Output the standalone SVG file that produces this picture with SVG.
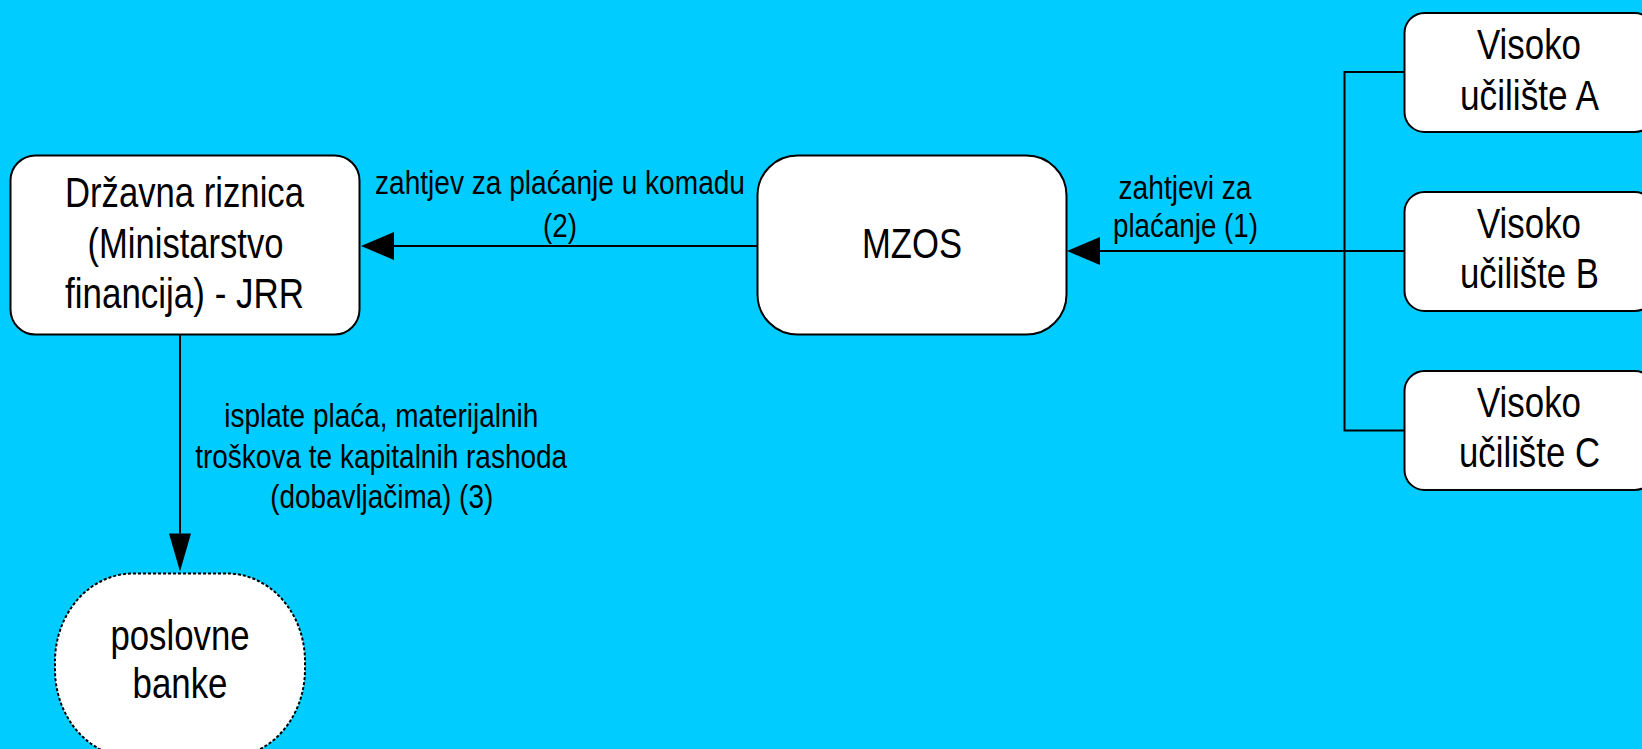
<svg xmlns="http://www.w3.org/2000/svg" width="1642" height="749" viewBox="0 0 1642 749">
  <style>
    .node { fill: #ffffff; stroke: #000000; stroke-width: 2; }
    .dashed { stroke-dasharray: 3 2; }
    .conn { fill: none; stroke: #000000; stroke-width: 2; }
    .nt { font-family: "Liberation Sans Narrow", "Liberation Sans", Arial, sans-serif; font-size: 42.5px; fill: #000000; text-anchor: middle; }
    .lt { font-family: "Liberation Sans Narrow", "Liberation Sans", Arial, sans-serif; font-size: 34px; fill: #000000; text-anchor: middle; }
  </style>
  <defs>
    <marker id="arrowH" markerUnits="userSpaceOnUse" orient="auto" refX="0" refY="14" markerWidth="34" markerHeight="28" overflow="visible">
      <path d="M0,0 L33,14 L0,28 Z" fill="#000000"/>
    </marker>
    <marker id="arrowV" markerUnits="userSpaceOnUse" orient="auto" refX="0" refY="11" markerWidth="39" markerHeight="22" overflow="visible">
      <path d="M0,0 L38,11 L0,22 Z" fill="#000000"/>
    </marker>
  </defs>

  <rect x="0" y="0" width="1642" height="749" fill="#00CCFF"/>

  <g id="connectors">
    <path class="conn" d="M1404,72 H1344.5 V430.5 H1404"/>
    <path class="conn" d="M1404,251 H1100" marker-end="url(#arrowH)"/>
    <path class="conn" d="M757,246 H394" marker-end="url(#arrowH)"/>
    <path class="conn" d="M180,335 V533.5" marker-end="url(#arrowV)"/>
    <g id="label-1">
      <text class="lt" x="1185" y="199" textLength="133" lengthAdjust="spacingAndGlyphs">zahtjevi za</text>
      <text class="lt" x="1185.5" y="236.5" textLength="145" lengthAdjust="spacingAndGlyphs">plaćanje (1)</text>
    </g>
    <g id="label-2">
      <text class="lt" x="560" y="193.5" textLength="370" lengthAdjust="spacingAndGlyphs">zahtjev za plaćanje u komadu</text>
      <text class="lt" x="560" y="237" textLength="34" lengthAdjust="spacingAndGlyphs">(2)</text>
    </g>
    <g id="label-3">
      <text class="lt" x="381.3" y="427" textLength="314" lengthAdjust="spacingAndGlyphs">isplate plaća, materijalnih</text>
      <text class="lt" x="381.2" y="467.5" textLength="372" lengthAdjust="spacingAndGlyphs">troškova te kapitalnih rashoda</text>
      <text class="lt" x="381.7" y="507.5" textLength="223" lengthAdjust="spacingAndGlyphs">(dobavljačima) (3)</text>
    </g>
  </g>

  <g id="node-drzavna-riznica">
    <rect class="node" x="10.5" y="155.5" width="349" height="179" rx="25" ry="25"/>
    <text class="nt" x="184.5" y="207" textLength="239" lengthAdjust="spacingAndGlyphs">Državna riznica</text>
    <text class="nt" x="185.5" y="257.5" textLength="196" lengthAdjust="spacingAndGlyphs">(Ministarstvo</text>
    <text class="nt" x="184.5" y="308" textLength="239" lengthAdjust="spacingAndGlyphs">financija) - JRR</text>
  </g>

  <g id="node-mzos">
    <rect class="node" x="757.5" y="155.5" width="309" height="179" rx="40" ry="40"/>
    <text class="nt" x="912" y="258" textLength="100" lengthAdjust="spacingAndGlyphs">MZOS</text>
  </g>

  <g id="node-visoko-a">
    <rect class="node" x="1404.5" y="13" width="250" height="119" rx="20" ry="20"/>
    <text class="nt" x="1529" y="59" textLength="104" lengthAdjust="spacingAndGlyphs">Visoko</text>
    <text class="nt" x="1529.5" y="109.5" textLength="139" lengthAdjust="spacingAndGlyphs">učilište A</text>
  </g>

  <g id="node-visoko-b">
    <rect class="node" x="1404.5" y="192" width="250" height="119" rx="20" ry="20"/>
    <text class="nt" x="1529" y="237.7" textLength="104" lengthAdjust="spacingAndGlyphs">Visoko</text>
    <text class="nt" x="1529.5" y="288.3" textLength="139" lengthAdjust="spacingAndGlyphs">učilište B</text>
  </g>

  <g id="node-visoko-c">
    <rect class="node" x="1404.5" y="371" width="250" height="119" rx="20" ry="20"/>
    <text class="nt" x="1529" y="416.7" textLength="104" lengthAdjust="spacingAndGlyphs">Visoko</text>
    <text class="nt" x="1529.5" y="466.7" textLength="141" lengthAdjust="spacingAndGlyphs">učilište C</text>
  </g>

  <g id="node-poslovne-banke">
    <rect class="node dashed" x="55" y="573.5" width="250" height="184" rx="78" ry="88"/>
    <text class="nt" x="180" y="650" textLength="139" lengthAdjust="spacingAndGlyphs">poslovne</text>
    <text class="nt" x="180" y="698" textLength="95" lengthAdjust="spacingAndGlyphs">banke</text>
  </g>
</svg>
